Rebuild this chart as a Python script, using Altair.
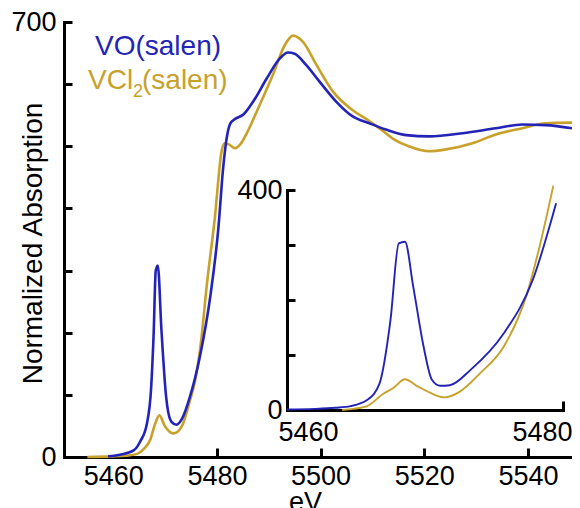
import altair as alt
import pandas as pd

FONT = "Liberation Sans"
series_names = ["VCl2(salen)", "VO(salen)"]
series_colors = ["#c8a12b", "#2323b8"]

# ---- main spectrum (eV, normalized absorption) ----
main_vo_ev = [5459, 5461.5, 5464, 5465.2, 5466.5, 5467.3, 5467.8, 5468.2, 5468.6, 5469.3,
              5470.2, 5471.2, 5472.2, 5473.3, 5474.8, 5476.7, 5478.7, 5480.3, 5481.2, 5482.0,
              5482.6, 5483.5, 5485.1, 5487.0, 5489.6, 5492.1, 5493.7, 5495.0, 5497.2, 5499.8,
              5503.0, 5506.2, 5509.4, 5512.6, 5516.5, 5521.0, 5527.4, 5533.8, 5538.9, 5543.4, 5548.5]
main_vo_abs = [1, 4, 11, 25, 54, 110, 200, 300, 308, 204,
               97, 57, 52, 62, 97, 161, 257, 370, 465, 519,
               537, 544, 551, 572, 609, 641, 651, 649, 631, 604,
               572, 548, 537, 527, 518, 516, 521, 529, 535, 534, 529]

main_vcl_ev = [5455, 5460, 5462.5, 5464.6, 5466.0, 5467.1, 5468.1, 5468.9, 5470.0, 5471.6,
               5473.2, 5474.8, 5475.8, 5477.0, 5478.0, 5479.6, 5480.9, 5481.5, 5482.3, 5483.5,
               5484.5, 5485.7, 5487.9, 5490.8, 5493.1, 5494.7, 5496.6, 5499.2, 5502.4, 5506.2,
               5509.0, 5511.5, 5514.0, 5517.0, 5521.0, 5524.2, 5529.3, 5533.8, 5538.9, 5543.4, 5548.5]
main_vcl_abs = [0, 1, 2, 5, 14, 27, 54, 67, 49, 38,
                49, 91, 123, 190, 273, 385, 492, 505, 503, 497,
                503, 520, 560, 615, 663, 678, 668, 631, 588, 558,
                543, 528, 512, 500, 492, 495, 505, 519, 529, 537, 538]

# ---- inset (pre-edge region) ----
inset_vo_ev = [5460, 5462, 5463.5, 5464.6, 5465.8, 5466.7, 5467.5, 5468.1, 5468.55, 5469.15,
               5469.9, 5470.5, 5471.1, 5471.8, 5473.3, 5475.7, 5477.8, 5479.5]
inset_vo_abs = [1, 2, 4, 7, 18, 48, 164, 303, 306, 224,
                115, 55, 44, 45, 73, 139, 236, 376]
inset_vcl_ev = [5464.0, 5464.8, 5465.8, 5467.0, 5467.7, 5468.55, 5469.4, 5470.4, 5471.4, 5472.5,
                5474.0, 5475.7, 5477.4, 5478.3, 5479.3]
inset_vcl_abs = [0, 2, 7, 30, 40, 56, 44, 31, 23, 33,
                 67, 115, 212, 297, 408]

# ---- axis values ----
main_x_labels = [5460, 5480, 5500, 5520, 5540]
main_x_ticks = [5480, 5500, 5520, 5540]
main_y_labels = [0, 700]
main_y_ticks = [100, 200, 300, 400, 500, 600, 700]
inset_x_labels = [5460, 5480]
inset_x_ticks = [5480]
inset_y_labels = [0, 400]
inset_y_ticks = [100, 200, 300, 400]


def frame(ev_lists, abs_lists):
    rows = []
    for name, evs, vals in zip(series_names, ev_lists, abs_lists):
        for e, v in zip(evs, vals):
            rows.append({"series": name, "ev": e, "absorb": v})
    return pd.DataFrame(rows)


main_df = frame([main_vcl_ev, main_vo_ev], [main_vcl_abs, main_vo_abs])
inset_df = frame([inset_vcl_ev, inset_vo_ev], [inset_vcl_abs, inset_vo_abs])

W, H = 508, 435
inset_xr = [223, 499]
inset_yr = [388, 168]

color = alt.Color("series:N", scale=alt.Scale(domain=series_names, range=series_colors), legend=None)

lab = dict(labelFont=FONT, labelFontSize=27, labelColor="black", grid=False, format="d")
dom = dict(domainColor="black", domainWidth=3, domainCap="square")

main_xs = alt.Scale(domain=[5450.5, 5548.5], nice=False, zero=False)
main_ys = alt.Scale(domain=[0, 700], nice=False, zero=False)
inset_xs = alt.Scale(domain=[5460, 5480], range=inset_xr, nice=False, zero=False)
inset_ys = alt.Scale(domain=[0, 400], range=inset_yr, nice=False, zero=False)

main_lines = alt.Chart(main_df).mark_line(strokeWidth=2.6, interpolate="monotone").encode(
    x=alt.X("ev:Q", scale=main_xs, axis=alt.Axis(
        values=main_x_labels, ticks=False, labelPadding=6, labelFlush=False, title="eV",
        titleFont=FONT, titleFontSize=27, titleFontWeight="normal", titleColor="black",
        titleX=241, titleY=53, titleBaseline="alphabetic", **lab, **dom)),
    y=alt.Y("absorb:Q", scale=main_ys, axis=alt.Axis(
        values=main_y_labels, ticks=False, labelPadding=8, labelFlush=False,
        title="Normalized Absorption",
        titleFont=FONT, titleFontSize=28, titleFontWeight="normal", titleColor="black",
        titleX=-23, titleY=221, titleAngle=270, titleBaseline="alphabetic", titleAlign="center",
        **lab, **dom)),
    color=color,
    detail="series:N",
)

main_ticks = alt.Chart(main_df).mark_line(strokeOpacity=0).encode(
    x=alt.X("ev:Q", scale=main_xs, axis=alt.Axis(
        orient="top", offset=-H, values=main_x_ticks, labels=False, domain=False,
        tickSize=9, tickWidth=3, tickColor="black", title=None, grid=False)),
    y=alt.Y("absorb:Q", scale=main_ys, axis=alt.Axis(
        orient="right", offset=-W, values=main_y_ticks, labels=False, domain=False,
        tickSize=8, tickWidth=3, tickColor="black", title=None, grid=False)),
    detail="series:N",
)

inset_lines = alt.Chart(inset_df).mark_line(strokeWidth=1.9, interpolate="monotone").encode(
    x=alt.X("ev:Q", scale=inset_xs, axis=alt.Axis(
        offset=-(H - inset_yr[0]), values=inset_x_labels, ticks=False, labelPadding=9,
        labelFlush=True, labelFlushOffset=9, title=None, **lab, **dom)),
    y=alt.Y("absorb:Q", scale=inset_ys, axis=alt.Axis(
        offset=-inset_xr[0], values=inset_y_labels, ticks=False, labelPadding=5,
        labelFlush=False, title=None, **lab, **dom)),
    color=color,
    detail="series:N",
)

inset_ticks = alt.Chart(inset_df).mark_line(strokeOpacity=0).encode(
    x=alt.X("ev:Q", scale=inset_xs, axis=alt.Axis(
        orient="top", offset=-inset_yr[0], values=inset_x_ticks, labels=False, domain=False,
        tickSize=9, tickWidth=3, tickColor="black", title=None, grid=False)),
    y=alt.Y("absorb:Q", scale=inset_ys, axis=alt.Axis(
        orient="right", offset=-(W - inset_xr[0]), values=inset_y_ticks, labels=False,
        domain=False, tickSize=8, tickWidth=3, tickColor="black", title=None, grid=False)),
    detail="series:N",
)

legend_parts = [
    ("VO(salen)", 31, 33, 28, series_colors[1]),
    ("VCl", 24, 67, 28, series_colors[0]),
    ("2", 69, 75, 18, series_colors[0]),
    ("(salen)", 78, 67, 28, series_colors[0]),
]
legend_layers = []
for txt, px, py, fs, col in legend_parts:
    legend_layers.append(
        alt.Chart(pd.DataFrame({"label": [txt]})).mark_text(
            align="left", baseline="alphabetic", font=FONT, fontSize=fs, color=col
        ).encode(text="label:N", x=alt.value(px), y=alt.value(py))
    )

chart = alt.layer(main_lines, main_ticks, inset_lines, inset_ticks, *legend_layers).resolve_scale(
    x="independent", y="independent"
).resolve_axis(
    x="independent", y="independent"
).properties(
    width=W, height=H,
    autosize=alt.AutoSizeParams(type="none"),
    padding={"left": 56, "top": 14, "right": 0, "bottom": 60},
    background="white",
).configure_view(stroke=None)

chart.save("out.html", embed_options={"renderer": "svg", "actions": False})
